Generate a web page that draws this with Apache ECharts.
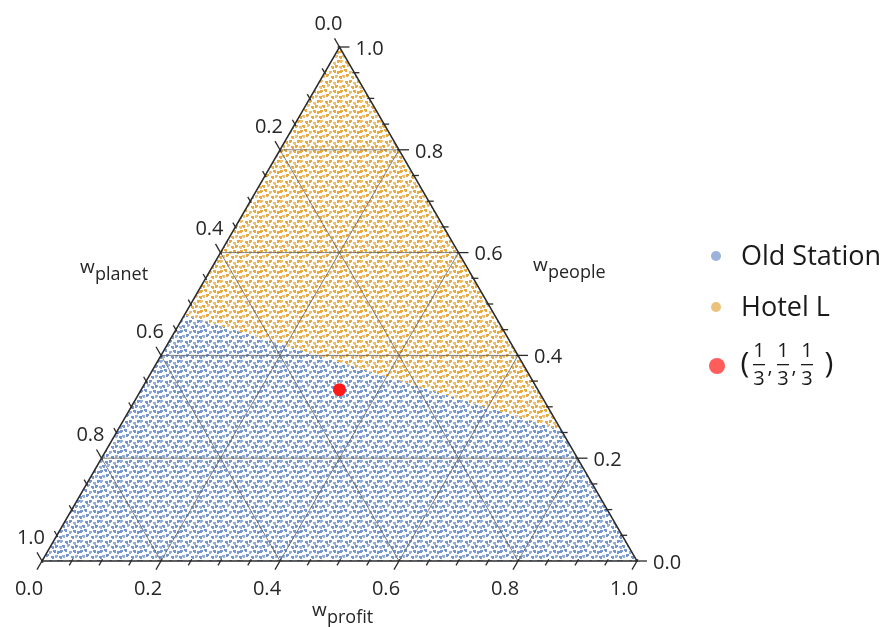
<!DOCTYPE html>
<html><head><meta charset="utf-8">
<script src="https://cdn.jsdelivr.net/npm/echarts@6/dist/echarts.min.js"></script>
<style>html,body{margin:0;padding:0;background:#fff}#c{width:890px;height:627px}</style>
</head><body><div id="c"></div>
<script>
// ---------------- data ----------------
const seriesNames = ['Old Station', 'Hotel L'];
// decision boundary between the two regions (ternary: profit, people)
const boundaryProfit = [0.0, 0.745];
const boundaryPeople = [0.479, 0.255];
// the equal-weight point (profit, people, planet)
const centerProfit = [1/3];
const centerPeople = [1/3];
// axis ticks
const majorTicks = [0, 0.2, 0.4, 0.6, 0.8, 1.0];
const majorLabels = ['0.0', '0.2', '0.4', '0.6', '0.8', '1.0'];
const minorTicks = [0.05, 0.1, 0.15, 0.25, 0.3, 0.35, 0.45, 0.5, 0.55, 0.65, 0.7, 0.75, 0.85, 0.9, 0.95];
const gridValues = [0.2, 0.4, 0.6, 0.8];

// ---------------- style ----------------
const FONT = '"Open Sans", "Liberation Sans", sans-serif';
const TXT = '#262626';
const AX = '#2b2b2b';
const GRID = 'rgba(90,90,90,0.75)';
const BLUE_DOT = ['#7697ce', '#95afda'];
const ORANGE_DOT = ['#e7aa42', '#eebf70'];

function makeTile(cols, bg) {
  const N = 20;
  const cv = document.createElement('canvas');
  cv.width = N; cv.height = N;
  const g = cv.getContext('2d');
  g.fillStyle = bg; g.fillRect(0, 0, N, N);
  const spots = [[0,0],[5,1],[9,0],[13,2],[17,0],
                 [2,5],[7,4],[11,6],[15,5],[19,6],
                 [0,10],[4,9],[9,11],[13,10],[17,11],
                 [2,15],[6,14],[11,16],[15,15],[19,16]];
  spots.forEach(function (d, i) {
    g.fillStyle = cols[i % 3 === 0 ? 1 : 0];
    [[0,0],[-N,0],[0,-N],[-N,-N]].forEach(function (o) {
      g.fillRect(d[0] + o[0], d[1] + o[1], 3, 2);
      g.fillRect(d[0] + o[0] + (i % 2), d[1] + o[1] + 2, 2, 1);
    });
  });
  return cv;
}
const blueTile = makeTile(BLUE_DOT, 'rgba(255,255,255,1)');
const orangeTile = makeTile(ORANGE_DOT, 'rgba(255,255,255,1)');

// ternary (profit, people) -> cartesian data coords
function tern(profit, people) { return [profit + people / 2, people]; }

const chart = echarts.init(document.getElementById('c'), null, { renderer: 'canvas' });

function P(api, profit, people) { return api.coord(tern(profit, people)); }

function regionItem(which) {
  return function (params, api) {
    const bl = P(api, boundaryProfit[0], boundaryPeople[0]);
    const br = P(api, boundaryProfit[1], boundaryPeople[1]);
    let pts;
    if (which === 0) pts = [P(api, 0, 0), P(api, 1, 0), br, bl];
    else pts = [bl, br, P(api, 0, 1)];
    return {
      type: 'polygon',
      shape: { points: pts },
      style: { fill: { image: which === 0 ? blueTile : orangeTile, repeat: 'repeat' }, stroke: null }
    };
  };
}

function axesItem(params, api) {
  const ch = [];
  function line(a, b, style) {
    ch.push({ type: 'line', shape: { x1: a[0], y1: a[1], x2: b[0], y2: b[1] }, style: style });
  }
  const gs = { stroke: GRID, lineWidth: 1 };
  const as = { stroke: AX, lineWidth: 1.3 };
  gridValues.forEach(function (v) {
    line(P(api, 0, v), P(api, 1 - v, v), gs);       // people = v
    line(P(api, v, 0), P(api, v, 1 - v), gs);       // profit = v
    line(P(api, 1 - v, 0), P(api, 0, 1 - v), gs);   // planet = v
  });
  ch.push({ type: 'polygon', shape: { points: [P(api, 0, 0), P(api, 1, 0), P(api, 0, 1)] },
            style: { fill: null, stroke: AX, lineWidth: 1.5 } });
  function ticks(list, L) {
    list.forEach(function (t) {
      const b = P(api, t, 0);           // profit axis (bottom)
      line([b[0] + 0.5 * 2, b[1] - 0.866 * 2], [b[0] - 0.5 * L, b[1] + 0.866 * L], as);
      const r = P(api, 1 - t, t);       // people axis (right)
      line([r[0] - 2, r[1]], [r[0] + L, r[1]], as);
      const l = P(api, 0, 1 - t);       // planet axis (left)
      line([l[0] + 0.5 * 2, l[1] + 0.866 * 2], [l[0] - 0.5 * L, l[1] - 0.866 * L], as);
    });
  }
  ticks(majorTicks, 10);
  ticks(minorTicks, 5);
  majorTicks.forEach(function (t, i) {
    const f = '20px ' + FONT;
    const b = P(api, t, 0);
    ch.push({ type: 'text', style: { text: majorLabels[i], x: b[0] - 13, y: b[1] + 28, align: 'center', verticalAlign: 'middle', font: f, fill: TXT } });
    const r = P(api, 1 - t, t);
    ch.push({ type: 'text', style: { text: majorLabels[i], x: r[0] + 16, y: r[1] + 2, align: 'left', verticalAlign: 'middle', font: f, fill: TXT } });
    const l = P(api, 0, 1 - t);
    ch.push({ type: 'text', style: { text: majorLabels[i], x: l[0] + 3, y: l[1] - 23, align: 'right', verticalAlign: 'middle', font: f, fill: TXT } });
  });
  return { type: 'group', children: ch };
}

function title(x, yW, ySub, sub) {
  return [
    { type: 'text', x: x, y: yW, style: { text: 'w', font: '19px ' + FONT, fill: TXT, align: 'left', verticalAlign: 'middle' } },
    { type: 'text', x: x + 15, y: ySub, style: { text: sub, font: '18px ' + FONT, fill: TXT, align: 'left', verticalAlign: 'middle' } }
  ];
}

const legendX = 716;
const LC = '#1a1a1a';
const graphics = [].concat(
  title(80, 268, 275, 'planet'),
  title(533, 266, 273, 'people'),
  title(312, 611, 618, 'profit'),
  [
    { type: 'circle', shape: { cx: legendX, cy: 256, r: 5 }, style: { fill: '#9cb2d8' } },
    { type: 'text', x: 741, y: 257, style: { text: seriesNames[0], font: '27px ' + FONT, fill: LC, align: 'left', verticalAlign: 'middle' } },
    { type: 'circle', shape: { cx: legendX, cy: 307, r: 5 }, style: { fill: '#eac27a' } },
    { type: 'text', x: 741, y: 308, style: { text: seriesNames[1], font: '27px ' + FONT, fill: LC, align: 'left', verticalAlign: 'middle' } },
    { type: 'circle', shape: { cx: legendX + 1, cy: 366, r: 8 }, style: { fill: '#ff5c5c' } },
    { type: 'text', x: 745, y: 364, style: { text: '(', font: '30px ' + FONT, fill: LC, align: 'center', verticalAlign: 'middle' } },
    { type: 'text', x: 829, y: 364, style: { text: ')', font: '30px ' + FONT, fill: LC, align: 'center', verticalAlign: 'middle' } }
  ]
);
[759, 783, 807].forEach(function (cx, i) {
  graphics.push({ type: 'text', x: cx, y: 351, style: { text: '1', font: '20px ' + FONT, fill: LC, align: 'center', verticalAlign: 'middle' } });
  graphics.push({ type: 'rect', shape: { x: cx - 6, y: 364, width: 12, height: 1.3 }, style: { fill: LC } });
  graphics.push({ type: 'text', x: cx, y: 379, style: { text: '3', font: '20px ' + FONT, fill: LC, align: 'center', verticalAlign: 'middle' } });
  if (i < 2) graphics.push({ type: 'text', x: cx + 11, y: 367, style: { text: ',', font: '20px ' + FONT, fill: LC, align: 'center', verticalAlign: 'middle' } });
});

chart.setOption({
  animation: false,
  grid: { left: 42, top: 47, width: 595, height: 514, containLabel: false },
  xAxis: { type: 'value', min: 0, max: 1, show: false },
  yAxis: { type: 'value', min: 0, max: 1, show: false },
  series: [
    { type: 'custom', name: seriesNames[0], data: [0], renderItem: regionItem(0), z: 1, silent: true },
    { type: 'custom', name: seriesNames[1], data: [0], renderItem: regionItem(1), z: 1, silent: true },
    { type: 'custom', name: 'axes', data: [0], renderItem: axesItem, z: 2, silent: true },
    { type: 'scatter', name: '(1/3,1/3,1/3)', z: 3, symbolSize: 13,
      itemStyle: { color: '#ff1a1a', opacity: 1 },
      data: centerProfit.map(function (p, i) { return tern(p, centerPeople[i]); }) }
  ],
  graphic: graphics
});
</script>
</body></html>
